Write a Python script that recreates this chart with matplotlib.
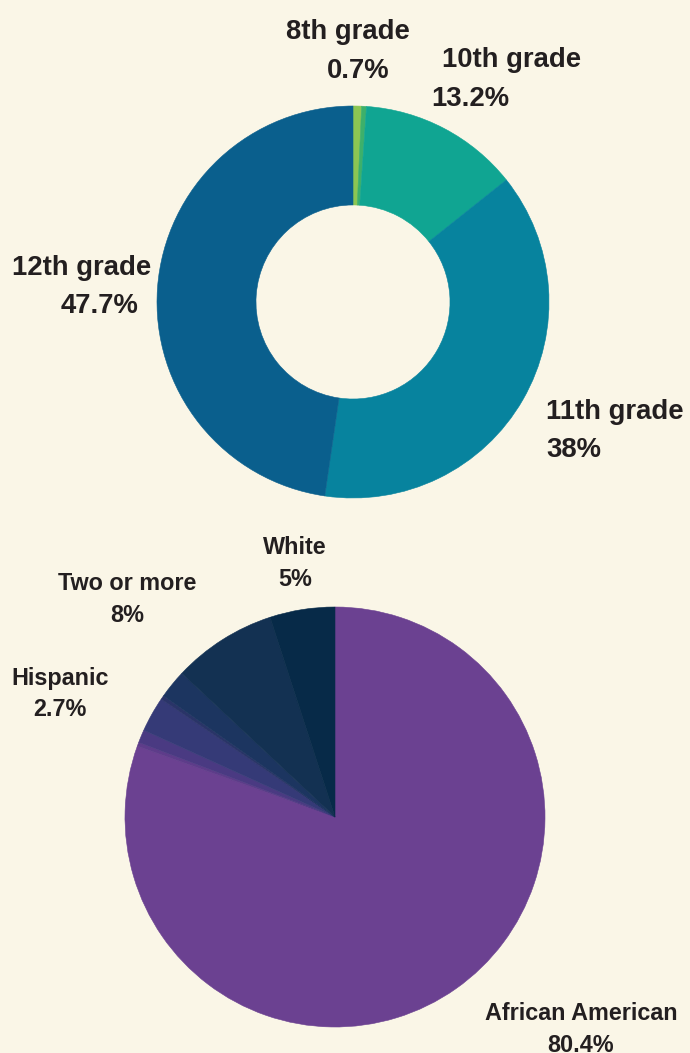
import matplotlib.pyplot as plt

# grade distribution (donut), clockwise from the top
grades = ['8th grade', '9th grade', '10th grade', '11th grade', '12th grade']
grade_pct = [0.7, 0.4, 13.2, 38.0, 47.7]
grade_colors = ['#8cc653', '#3db06b', '#10a592', '#07839e', '#0a5f8d']

# race distribution (pie), clockwise from the top
races = ['African American', 'Other 1', 'Other 2', 'Hispanic', 'Other 3', 'Other 4',
         'Two or more', 'White']
race_pct = [80.4, 0.3, 1.0, 2.7, 0.3, 2.2, 8.0, 5.0]
race_colors = ['#6b4191', '#5e3c8a', '#4a3a82', '#353a77', '#2a3468', '#1c3560',
               '#133152', '#072a48']

bg = '#faf6e7'
txt = '#231f20'
W, H = 690, 1053

fig = plt.figure(figsize=(W / 100, H / 100), dpi=100, facecolor=bg)


def axes_at(cx, cy, r):
    ax = fig.add_axes([(cx - r) / W, 1 - (cy + r) / H, 2 * r / W, 2 * r / H])
    ax.axis('off')
    return ax


def fix(ax):
    ax.set_xlim(-1, 1)
    ax.set_ylim(-1, 1)
    ax.set_aspect('equal')


ax1 = axes_at(353, 302, 196)
w1, _ = ax1.pie(grade_pct, colors=grade_colors, startangle=90, counterclock=False,
                radius=1, wedgeprops=dict(width=0.505))
for w in w1:
    w.set_edgecolor(w.get_facecolor())
    w.set_linewidth(0.4)
fix(ax1)

ax2 = axes_at(335, 817, 210)
w2, _ = ax2.pie(race_pct, colors=race_colors, startangle=90, counterclock=False,
                radius=1)
for w in w2:
    w.set_edgecolor(w.get_facecolor())
    w.set_linewidth(0.4)
fix(ax2)


def label(x, y, s, size, ha='center'):
    # small nudge: va='center' sits a touch higher than the reference text
    y = y + 2
    fig.text(x / W, 1 - y / H, s, ha=ha, va='center', fontsize=size,
             fontweight='bold', color=txt, family=['Liberation Sans', 'DejaVu Sans'])


big = 19.8
label(348, 30, '8th grade', big)
label(358, 69, '0.7%', big)
label(442, 58, '10th grade', big, ha='left')
label(431, 97, '13.2%', big, ha='left')
label(12, 266, '12th grade', big, ha='left')
label(100, 304, '47.7%', big)
label(546, 410, '11th grade', big, ha='left')
label(546, 448, '38%', big, ha='left')

small = 16.8
label(295, 546, 'White', small)
label(295, 578, '5%', small)
label(127, 582, 'Two or more', small)
label(127, 614, '8%', small)
label(60, 676, 'Hispanic', small)
label(60, 707, '2.7%', small)
label(581, 1012, 'African American', small)
label(581, 1043, '80.4%', small)

fig.savefig('out.png', dpi=100, facecolor=bg)
